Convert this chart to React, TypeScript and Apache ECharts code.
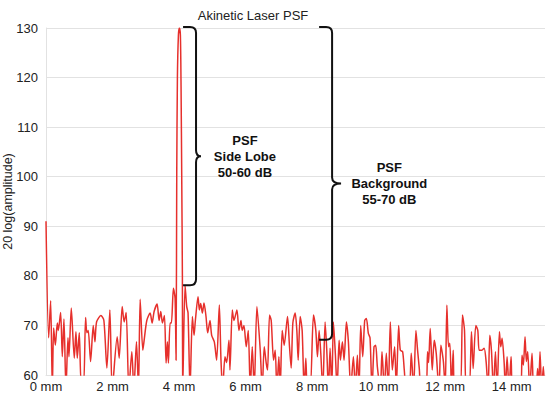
import React, { useEffect, useRef } from "react";
import * as echarts from "echarts";

// [position (mm), 20 log(amplitude)]
const psfTrace: [number, number][] = [
  [0.0, 91], [0.08, 67.5], [0.14, 75], [0.19, 57], [0.23, 69.5], [0.28, 66], [0.34, 70.5], [0.37, 69],
  [0.44, 72.6], [0.49, 63.7], [0.54, 71.3], [0.6, 57], [0.66, 67.5], [0.69, 63.7], [0.76, 73.5], [0.85, 63.4],
  [0.9, 68.7], [0.94, 63.4], [1.0, 68.5], [1.06, 58], [1.13, 58], [1.19, 71.6], [1.23, 68.5], [1.27, 69],
  [1.34, 62.7], [1.42, 70], [1.47, 66.7], [1.52, 70.7], [1.65, 72], [1.74, 71], [1.83, 61.4], [1.92, 73.1],
  [1.99, 57], [2.14, 67.7], [2.2, 63.4], [2.29, 73.8], [2.35, 70.7], [2.41, 72.6], [2.49, 57], [2.58, 64.7],
  [2.64, 57], [2.72, 66.7], [2.78, 57], [2.83, 75.3], [2.91, 65], [2.95, 67], [3.03, 71], [3.13, 72.5],
  [3.19, 70.5], [3.25, 72.8], [3.34, 74.3], [3.4, 71], [3.45, 72.8], [3.5, 70.5], [3.56, 72], [3.61, 62.4],
  [3.65, 66.7], [3.68, 62.4], [3.73, 70.5], [3.77, 70.5], [3.83, 77.5], [3.88, 75.5], [3.91, 63], [3.93, 100],
  [3.95, 120], [3.98, 128.5], [4.01, 130], [4.04, 128.5], [4.06, 118], [4.08, 100], [4.1, 80], [4.11, 57],
  [4.18, 78.1], [4.23, 73.8], [4.27, 72.5], [4.33, 57], [4.4, 71.8], [4.45, 68], [4.49, 71], [4.57, 75.8],
  [4.61, 73.1], [4.65, 74.4], [4.7, 72.5], [4.75, 74.5], [4.81, 71.8], [4.86, 68.5], [4.93, 71], [4.98, 68],
  [5.06, 66.7], [5.13, 63], [5.21, 74.1], [5.26, 63], [5.31, 57], [5.38, 63.7], [5.43, 62.5], [5.5, 67],
  [5.53, 61], [5.6, 73.1], [5.65, 71], [5.74, 73.1], [5.8, 69], [5.86, 71], [5.9, 69], [5.95, 70],
  [6.02, 65.7], [6.08, 69], [6.14, 57], [6.2, 65.7], [6.26, 57], [6.34, 73.8], [6.44, 65], [6.5, 57],
  [6.56, 65.7], [6.62, 62.4], [6.66, 61], [6.72, 72.1], [6.77, 71], [6.84, 63], [6.89, 65], [6.94, 57],
  [7.0, 63.7], [7.04, 57], [7.1, 69], [7.16, 66], [7.26, 71.8], [7.32, 65.7], [7.37, 61.4], [7.42, 70.5],
  [7.49, 72.5], [7.54, 69], [7.58, 63], [7.64, 71.8], [7.7, 69], [7.76, 57], [7.81, 63.4], [7.86, 57],
  [7.94, 57], [8.04, 72.1], [8.11, 69], [8.16, 63.7], [8.21, 69], [8.26, 64.4], [8.32, 57], [8.39, 70.7],
  [8.44, 65], [8.49, 57], [8.54, 65.4], [8.59, 57], [8.64, 70.7], [8.7, 64], [8.75, 57], [8.81, 67],
  [8.85, 63], [8.91, 66.7], [8.96, 63], [9.03, 70.7], [9.09, 66.7], [9.16, 57], [9.24, 63.7], [9.3, 57],
  [9.36, 64], [9.41, 57], [9.46, 70], [9.52, 63.7], [9.58, 71], [9.63, 71.4], [9.69, 68.4], [9.74, 67.5],
  [9.8, 57], [9.86, 65.7], [9.91, 66], [9.96, 61.7], [10.05, 57], [10.1, 64.7], [10.17, 57], [10.23, 64.4],
  [10.29, 57], [10.35, 70.7], [10.41, 61], [10.48, 65.7], [10.53, 57], [10.6, 70], [10.65, 65], [10.72, 64.7],
  [10.77, 61], [10.83, 57], [10.92, 57], [10.98, 64.4], [11.05, 57], [11.12, 69], [11.17, 65], [11.22, 61.4],
  [11.28, 57], [11.42, 57], [11.47, 64.7], [11.5, 62.5], [11.55, 69.4], [11.61, 61], [11.67, 67], [11.73, 64.4],
  [11.81, 57], [11.87, 66], [11.91, 64.5], [11.95, 62.4], [12.0, 57], [12.05, 74.1], [12.1, 65.7], [12.14, 66.4],
  [12.19, 57], [12.24, 65], [12.29, 57], [12.45, 57], [12.52, 72.1], [12.58, 69], [12.63, 57], [12.72, 57],
  [12.79, 68.7], [12.84, 61.3], [12.92, 70], [12.98, 69], [13.02, 65], [13.1, 65], [13.17, 65.4], [13.23, 62.7],
  [13.29, 57], [13.34, 68], [13.39, 65], [13.45, 57], [13.51, 64.7], [13.56, 57], [13.63, 68.7], [13.67, 65.7],
  [13.71, 67.4], [13.77, 62.7], [13.81, 57], [13.86, 63.7], [13.92, 57], [13.98, 63.7], [14.04, 57], [14.26, 57],
  [14.31, 64], [14.35, 62], [14.4, 67.7], [14.44, 62.7], [14.48, 64.7], [14.54, 57], [14.61, 64.4], [14.66, 57],
  [14.72, 57], [14.78, 61.3], [14.81, 57], [14.85, 64.7], [14.9, 57], [14.95, 61.7], [14.99, 57],
];

// Brace annotations: [hook start mm, spine mm, tip mm, top dB, bottom dB, label centre mm]
const braceGeometry: number[][] = [
  [4.12, 4.51, 4.66, 130.2, 78.1, 5.98],
  [8.21, 8.6, 8.87, 130.2, 67.1, 10.32],
];
const braceLabels = ["PSF\nSide Lobe\n50-60 dB", "PSF\nBackground\n55-70 dB"];

const yTicks = { min: 60, max: 130, interval: 10 };
const xTicks = { min: 0, max: 15, interval: 2 };

const chartTitle = "Akinetic Laser PSF";
const yAxisName = "20 log(amplitude)";

const FONT = "'Liberation Sans', Arial, Helvetica, sans-serif";

export default function App() {
  const ref = useRef<HTMLDivElement>(null);

  useEffect(() => {
    document.body.style.margin = "0";
    if (!ref.current) return;
    const chart = echarts.init(ref.current, undefined, { renderer: "svg" });

    const renderBrace = (params: any, api: any) => {
      const i = params.dataIndex;
      const [x0] = api.coord([api.value(0), api.value(3)]);
      const [xv, yt] = api.coord([api.value(1), api.value(3)]);
      const [xt] = api.coord([api.value(2), api.value(3)]);
      const [, yb] = api.coord([api.value(1), api.value(4)]);
      const [xl] = api.coord([api.value(5), api.value(3)]);
      const ym = (yt + yb) / 2;
      const r = 6;
      const d =
        `M${x0},${yt} L${xv - r},${yt} Q${xv},${yt} ${xv},${yt + r} ` +
        `L${xv},${ym - r} Q${xv},${ym} ${xt},${ym} Q${xv},${ym} ${xv},${ym + r} ` +
        `L${xv},${yb - r} Q${xv},${yb} ${xv - r},${yb} L${x0},${yb}`;
      return {
        type: "group",
        children: [
          {
            type: "path",
            shape: { pathData: d },
            style: { fill: "none", stroke: "#111", lineWidth: 2 },
          },
          {
            type: "text",
            x: xl,
            y: ym,
            style: {
              text: braceLabels[i],
              fontFamily: FONT,
              fontSize: 13,
              fontWeight: "bold",
              lineHeight: 16,
              fill: "#111",
              align: "center",
              verticalAlign: "middle",
            },
          },
        ],
      };
    };

    chart.setOption({
      animation: false,
      backgroundColor: "#fff",
      textStyle: { fontFamily: FONT },
      title: {
        text: chartTitle,
        left: 248,
        top: 4,
        textAlign: "center",
        textStyle: { fontSize: 13, fontWeight: "normal", color: "#222", fontFamily: FONT },
      },
      grid: {
        left: 46,
        right: 8,
        top: 28,
        bottom: 20,
        containLabel: false,
        outerBoundsMode: "none",
      },
      xAxis: {
        type: "value",
        min: xTicks.min,
        max: xTicks.max,
        interval: xTicks.interval,
        axisLine: { show: true, lineStyle: { color: "#e2e2e2" } },
        axisTick: { show: false },
        splitLine: { show: false },
        axisLabel: {
          formatter: "{value} mm",
          color: "#222",
          fontSize: 13,
          margin: 5,
          showMaxLabel: false,
          fontFamily: FONT,
        },
      },
      yAxis: {
        type: "value",
        min: yTicks.min,
        max: yTicks.max,
        interval: yTicks.interval,
        name: yAxisName,
        nameLocation: "middle",
        nameGap: 32,
        nameMoveOverlap: false,
        nameTextStyle: { fontSize: 12.5, color: "#222", fontFamily: FONT },
        axisLine: { show: true, lineStyle: { color: "#e2e2e2" } },
        axisTick: { show: false },
        splitLine: { show: true, lineStyle: { color: "#e2e2e2" } },
        axisLabel: { color: "#222", fontSize: 13, margin: 8, fontFamily: FONT },
      },
      series: [
        {
          type: "line",
          data: psfTrace,
          showSymbol: false,
          smooth: 0.25,
          clip: true,
          lineStyle: { color: "#e6302c", width: 1.5 },
          z: 2,
        },
        {
          type: "custom",
          data: braceGeometry,
          renderItem: renderBrace,
          clip: false,
          silent: true,
          z: 3,
        },
      ],
    });

    return () => chart.dispose();
  }, []);

  return <div ref={ref} style={{ width: 553, height: 395 }} />;
}
